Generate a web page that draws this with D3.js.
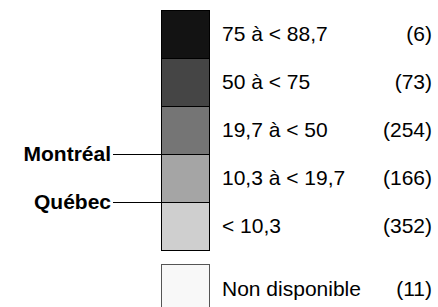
<!DOCTYPE html>
<html>
<head>
<meta charset="utf-8">
<script src="https://cdn.jsdelivr.net/npm/d3@7"></script>
<style>
  body { margin: 0; background: #fff; }
  text { font-family: "Liberation Sans", Arial, sans-serif; fill: #000; }
</style>
</head>
<body>
<svg id="legend" width="438" height="307"></svg>
<script>
// classes from top to bottom
const classes = ["75 à < 88,7", "50 à < 75", "19,7 à < 50", "10,3 à < 19,7", "< 10,3"];
const counts = [6, 73, 254, 166, 352];
const shades = ["#131313", "#454545", "#757575", "#a5a5a5", "#cfcfcf"];
const missing = { label: "Non disponible", count: 11, shade: "#f8f8f8" };
// cities marked at the lower edge of a class
const cities = [["Montréal", "19,7 à < 50"], ["Québec", "10,3 à < 19,7"]];

const svg = d3.select("#legend");

const y = d3.scaleBand()
  .domain(classes)
  .range([10, 250])
  .padding(0);

const boxX = 161, boxW = 48;
const fs = 21;

const rows = svg.append("g")
  .selectAll("g")
  .data(classes)
  .enter().append("g");

rows.append("rect")
  .attr("x", boxX)
  .attr("y", d => y(d))
  .attr("width", boxW)
  .attr("height", y.bandwidth())
  .attr("fill", (d, i) => shades[i]);

rows.append("text")
  .attr("x", 222)
  .attr("y", d => y(d) + y.bandwidth() / 2)
  .attr("dy", "0.35em")
  .style("font-size", fs + "px")
  .text(d => d);

rows.append("text")
  .attr("x", 432)
  .attr("y", d => y(d) + y.bandwidth() / 2)
  .attr("dy", "0.35em")
  .attr("text-anchor", "end")
  .style("font-size", fs + "px")
  .text((d, i) => `(${counts[i]})`);

// outline of the whole column
svg.append("rect")
  .attr("x", boxX + 0.5)
  .attr("y", 10.5)
  .attr("width", boxW)
  .attr("height", 240)
  .attr("fill", "none")
  .attr("stroke", "#000")
  .attr("stroke-width", 1);

// separators between classes
svg.append("g")
  .selectAll("line")
  .data(classes.slice(1))
  .enter().append("line")
  .attr("x1", boxX)
  .attr("x2", boxX + boxW)
  .attr("y1", d => y(d) + 0.5)
  .attr("y2", d => y(d) + 0.5)
  .attr("stroke", "#000");

// not available box
svg.append("rect")
  .attr("x", boxX + 0.5)
  .attr("y", 264.5)
  .attr("width", boxW)
  .attr("height", 50)
  .attr("fill", missing.shade)
  .attr("stroke", "#555");

svg.append("text")
  .attr("x", 222)
  .attr("y", 289)
  .attr("dy", "0.35em")
  .style("font-size", fs + "px")
  .text(missing.label);

svg.append("text")
  .attr("x", 432)
  .attr("y", 289)
  .attr("dy", "0.35em")
  .attr("text-anchor", "end")
  .style("font-size", fs + "px")
  .text(`(${missing.count})`);

// city markers
const city = svg.append("g")
  .selectAll("g")
  .data(cities)
  .enter().append("g");

city.append("line")
  .attr("x1", 113)
  .attr("x2", boxX)
  .attr("y1", d => y(d[1]) + y.bandwidth() + 0.5)
  .attr("y2", d => y(d[1]) + y.bandwidth() + 0.5)
  .attr("stroke", "#000");

city.append("text")
  .attr("x", 111)
  .attr("y", d => y(d[1]) + y.bandwidth())
  .attr("dy", "0.35em")
  .attr("text-anchor", "end")
  .style("font-size", fs + "px")
  .style("font-weight", "bold")
  .text(d => d[0]);
</script>
</body>
</html>
